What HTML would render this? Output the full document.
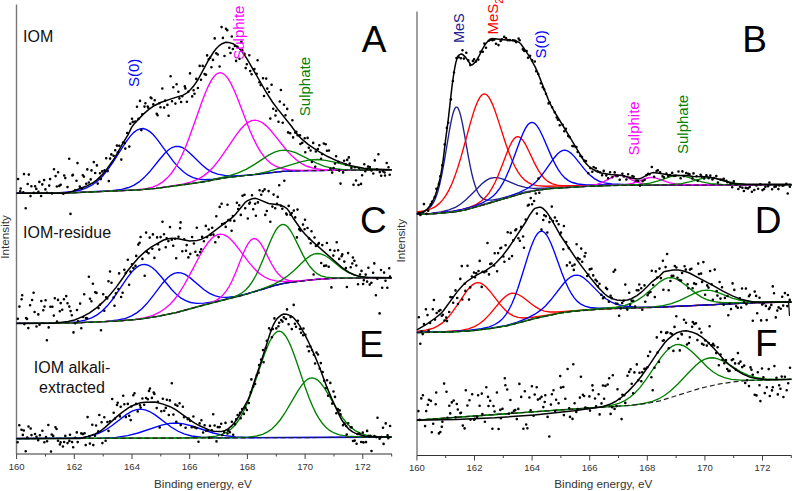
<!DOCTYPE html>
<html><head><meta charset="utf-8"><style>
html,body{margin:0;padding:0;background:#fff;width:793px;height:491px;overflow:hidden}
svg{display:block}
text{font-family:"Liberation Sans",sans-serif}
</style></head><body>
<svg width="793" height="491" viewBox="0 0 793 491" font-family="Liberation Sans, sans-serif">
<line x1="16.5" y1="4.5" x2="16.5" y2="454" stroke="#777" stroke-width="1.4"/>
<line x1="16.5" y1="454" x2="392" y2="454" stroke="#333" stroke-width="1.1"/>
<line x1="417" y1="11.5" x2="417" y2="455.5" stroke="#777" stroke-width="1.4"/>
<line x1="417" y1="455.5" x2="791.5" y2="455.5" stroke="#333" stroke-width="1.1"/>
<line x1="16.6" y1="454" x2="16.6" y2="459.0" stroke="#444" stroke-width="1"/>
<text x="16.6" y="469.5" font-size="9.5" text-anchor="middle" fill="#333">160</text>
<line x1="416.9" y1="455.5" x2="416.9" y2="460.5" stroke="#444" stroke-width="1"/>
<text x="416.9" y="470.7" font-size="9.5" text-anchor="middle" fill="#333">160</text>
<line x1="45.5" y1="454" x2="45.5" y2="456.5" stroke="#444" stroke-width="1"/>
<line x1="445.7" y1="455.5" x2="445.7" y2="458.0" stroke="#444" stroke-width="1"/>
<line x1="74.3" y1="454" x2="74.3" y2="459.0" stroke="#444" stroke-width="1"/>
<text x="74.3" y="469.5" font-size="9.5" text-anchor="middle" fill="#333">162</text>
<line x1="474.5" y1="455.5" x2="474.5" y2="460.5" stroke="#444" stroke-width="1"/>
<text x="474.5" y="470.7" font-size="9.5" text-anchor="middle" fill="#333">162</text>
<line x1="103.2" y1="454" x2="103.2" y2="456.5" stroke="#444" stroke-width="1"/>
<line x1="503.3" y1="455.5" x2="503.3" y2="458.0" stroke="#444" stroke-width="1"/>
<line x1="132.0" y1="454" x2="132.0" y2="459.0" stroke="#444" stroke-width="1"/>
<text x="132.0" y="469.5" font-size="9.5" text-anchor="middle" fill="#333">164</text>
<line x1="532.1" y1="455.5" x2="532.1" y2="460.5" stroke="#444" stroke-width="1"/>
<text x="532.1" y="470.7" font-size="9.5" text-anchor="middle" fill="#333">164</text>
<line x1="160.8" y1="454" x2="160.8" y2="456.5" stroke="#444" stroke-width="1"/>
<line x1="560.9" y1="455.5" x2="560.9" y2="458.0" stroke="#444" stroke-width="1"/>
<line x1="189.7" y1="454" x2="189.7" y2="459.0" stroke="#444" stroke-width="1"/>
<text x="189.7" y="469.5" font-size="9.5" text-anchor="middle" fill="#333">166</text>
<line x1="589.7" y1="455.5" x2="589.7" y2="460.5" stroke="#444" stroke-width="1"/>
<text x="589.7" y="470.7" font-size="9.5" text-anchor="middle" fill="#333">166</text>
<line x1="218.6" y1="454" x2="218.6" y2="456.5" stroke="#444" stroke-width="1"/>
<line x1="618.5" y1="455.5" x2="618.5" y2="458.0" stroke="#444" stroke-width="1"/>
<line x1="247.4" y1="454" x2="247.4" y2="459.0" stroke="#444" stroke-width="1"/>
<text x="247.4" y="469.5" font-size="9.5" text-anchor="middle" fill="#333">168</text>
<line x1="647.3" y1="455.5" x2="647.3" y2="460.5" stroke="#444" stroke-width="1"/>
<text x="647.3" y="470.7" font-size="9.5" text-anchor="middle" fill="#333">168</text>
<line x1="276.3" y1="454" x2="276.3" y2="456.5" stroke="#444" stroke-width="1"/>
<line x1="676.1" y1="455.5" x2="676.1" y2="458.0" stroke="#444" stroke-width="1"/>
<line x1="305.1" y1="454" x2="305.1" y2="459.0" stroke="#444" stroke-width="1"/>
<text x="305.1" y="469.5" font-size="9.5" text-anchor="middle" fill="#333">170</text>
<line x1="704.9" y1="455.5" x2="704.9" y2="460.5" stroke="#444" stroke-width="1"/>
<text x="704.9" y="470.7" font-size="9.5" text-anchor="middle" fill="#333">170</text>
<line x1="334.0" y1="454" x2="334.0" y2="456.5" stroke="#444" stroke-width="1"/>
<line x1="733.7" y1="455.5" x2="733.7" y2="458.0" stroke="#444" stroke-width="1"/>
<line x1="362.8" y1="454" x2="362.8" y2="459.0" stroke="#444" stroke-width="1"/>
<text x="362.8" y="469.5" font-size="9.5" text-anchor="middle" fill="#333">172</text>
<line x1="762.5" y1="455.5" x2="762.5" y2="460.5" stroke="#444" stroke-width="1"/>
<text x="762.5" y="470.7" font-size="9.5" text-anchor="middle" fill="#333">172</text>
<line x1="391.7" y1="454" x2="391.7" y2="456.5" stroke="#444" stroke-width="1"/>
<line x1="791.3" y1="455.5" x2="791.3" y2="458.0" stroke="#444" stroke-width="1"/>
<text x="154" y="487.7" font-size="11.7" fill="#333">Binding energy, eV</text>
<text x="554.3" y="488" font-size="11.7" fill="#333">Binding energy, eV</text>
<text transform="translate(9,258.7) rotate(-90)" font-size="11.7" fill="#333">Intensity</text>
<text transform="translate(405.4,262.5) rotate(-90)" font-size="11.7" fill="#333">Intensity</text>
<path d="M16.6 193.2L59.6 192.6L72.1 191.6L80.6 190.0L87.1 187.7L92.6 184.8L97.6 181.1L102.1 176.7L107.1 170.7L112.6 162.9L125.6 142.5L130.1 136.4L133.6 132.6L137.1 130.0L140.1 128.8L143.1 128.5L146.1 129.3L149.6 131.4L153.1 134.5L157.6 139.8L166.1 151.6L173.1 161.1L178.1 166.9L183.1 171.6L188.1 175.2L193.1 177.6L198.6 179.1L204.6 179.7L213.1 179.1L231.6 176.7L258.6 174.1L282.1 171.3L298.6 170.7L391.6 169.8" stroke="#0000ff" stroke-width="1.35" fill="none"/>
<path d="M16.6 193.3L70.6 192.7L111.6 190.7L121.6 189.4L128.6 187.5L134.1 185.1L139.1 181.9L144.1 177.6L149.6 171.8L159.1 160.0L164.6 153.5L168.6 149.8L172.1 147.5L175.6 146.4L179.1 146.5L182.6 147.7L186.6 150.3L192.1 155.3L202.1 165.1L207.1 169.1L212.1 172.1L217.6 174.1L224.6 175.4L234.1 175.9L249.6 175.1L283.1 171.3L304.1 170.6L391.6 169.8" stroke="#0000ff" stroke-width="1.35" fill="none"/>
<path d="M16.6 193.3L71.1 192.8L132.6 190.2L145.1 188.8L152.6 187.1L158.1 184.8L163.1 181.6L167.6 177.6L171.6 173.0L175.1 168.0L178.6 162.0L182.1 155.0L185.6 146.9L189.6 136.6L195.6 119.7L201.6 102.7L205.1 93.5L208.1 86.6L210.6 81.6L213.1 77.7L215.6 74.8L218.1 73.2L220.6 72.7L223.1 73.5L225.6 75.6L228.1 78.7L230.6 82.9L233.6 89.0L237.1 97.2L244.1 115.6L249.6 129.7L253.6 138.9L257.1 145.9L260.6 151.8L264.1 156.7L267.6 160.6L271.6 163.9L276.1 166.5L281.6 168.5L289.6 169.9L301.1 170.5L391.6 169.8" stroke="#ff00ff" stroke-width="1.35" fill="none"/>
<path d="M16.6 193.3L71.1 192.8L138.6 189.9L156.1 188.4L182.6 184.1L191.6 181.8L198.1 179.2L203.6 175.9L208.6 171.9L213.6 166.7L219.1 159.9L226.6 149.1L236.1 135.1L240.6 129.3L244.6 125.1L248.1 122.4L251.6 120.7L255.1 120.2L258.6 120.8L262.1 122.5L266.1 125.6L270.6 130.3L278.1 139.6L286.6 150.2L292.1 156.1L297.1 160.5L302.1 163.9L307.6 166.5L314.1 168.4L322.6 169.7L337.1 170.2L391.6 169.8" stroke="#ff00ff" stroke-width="1.35" fill="none"/>
<path d="M16.6 193.3L71.1 192.8L138.6 189.9L156.1 188.4L188.6 184.0L205.1 181.5L228.6 175.9L238.1 172.9L246.1 169.4L254.6 164.4L268.6 155.2L274.6 152.2L279.6 150.6L284.6 150.1L289.6 150.8L295.6 152.7L305.1 157.4L316.6 163.2L324.6 166.3L333.1 168.3L343.6 169.6L361.6 170.0L391.6 169.8" stroke="#008000" stroke-width="1.35" fill="none"/>
<path d="M16.6 193.3L71.1 192.8L138.6 189.9L156.1 188.4L188.1 184.1L206.1 181.4L225.1 177.8L254.6 174.4L267.6 171.7L283.1 167.1L301.6 161.6L310.1 159.9L317.6 159.5L325.6 160.3L336.6 162.7L353.1 166.9L364.6 168.7L379.1 169.6L391.6 169.7" stroke="#008000" stroke-width="1.35" fill="none"/>
<path d="M16.6 193.3L71.1 192.8L138.6 189.9L156.1 188.4L188.1 184.1L206.1 181.4L225.1 177.8L261.1 174.0L282.6 171.4L300.6 170.8L391.6 169.8" stroke="#222" stroke-width="1.2" fill="none" stroke-dasharray="5,3"/>
<path d="M16.6 193.3L64.6 193.2L71.6 191.6L86.1 186.3L92.6 183.0L96.6 180.1L102.1 174.9L106.6 169.4L113.1 160.3L117.1 153.7L122.6 143.6L128.1 134.6L131.6 127.4L134.1 124.0L143.1 114.4L148.6 109.7L154.6 105.5L160.6 102.5L171.1 98.9L183.1 95.1L186.6 93.2L190.6 89.6L193.6 86.1L197.6 80.3L201.1 73.9L208.6 60.0L213.6 52.0L216.1 48.8L219.6 45.3L222.1 43.7L225.6 42.3L228.6 42.4L233.1 43.7L236.6 46.1L240.1 49.4L244.1 54.4L247.6 59.9L258.6 79.0L266.1 92.1L272.6 102.2L277.6 108.9L291.1 125.7L297.6 134.7L301.6 138.9L308.1 144.4L318.1 151.1L327.1 156.3L337.6 161.1L349.6 165.4L363.6 168.3L371.1 169.1L391.6 169.7" stroke="#000" stroke-width="1.5" fill="none"/>
<path d="M18.1 179.0h.01M20.2 191.2h.01M20.7 188.5h.01M23.3 192.2h.01M24.0 174.1h.01M25.7 208.2h.01M27.7 184.0h.01M28.8 174.6h.01M30.5 196.1h.01M31.4 186.3h.01M33.8 192.9h.01M35.1 186.2h.01M36.3 188.9h.01M38.4 191.9h.01M39.4 181.9h.01M41.1 196.0h.01M42.3 184.4h.01M44.1 180.1h.01M45.4 189.4h.01M47.0 192.8h.01M49.2 185.6h.01M50.1 179.1h.01M51.9 193.5h.01M54.0 169.2h.01M55.6 176.1h.01M56.8 186.5h.01M58.1 172.2h.01M59.3 185.9h.01M60.7 184.8h.01M63.3 193.8h.01M64.2 175.5h.01M65.3 178.1h.01M67.5 187.1h.01M69.2 158.7h.01M70.5 213.9h.01M72.4 175.4h.01M72.9 174.9h.01M75.0 190.2h.01M76.5 180.7h.01M77.5 163.1h.01M79.8 186.6h.01M81.6 188.5h.01M82.8 175.2h.01M83.9 176.6h.01M86.2 183.7h.01M87.3 169.4h.01M88.8 182.5h.01M90.7 179.4h.01M91.5 170.4h.01M93.8 162.1h.01M95.2 173.0h.01M96.9 165.4h.01M97.7 183.6h.01M100.0 173.3h.01M100.8 179.1h.01M102.2 171.4h.01M104.6 170.4h.01M106.2 158.3h.01M107.7 171.1h.01M108.8 181.1h.01M110.1 158.6h.01M111.3 154.4h.01M113.6 155.8h.01M115.2 150.3h.01M116.9 145.6h.01M117.8 152.6h.01M119.2 145.8h.01M121.3 159.6h.01M123.0 142.5h.01M124.8 143.1h.01M125.3 148.6h.01M127.2 133.0h.01M129.3 146.6h.01M130.3 123.8h.01M132.0 118.7h.01M132.8 121.9h.01M135.2 121.6h.01M137.0 106.8h.01M138.4 118.9h.01M140.0 100.9h.01M141.3 130.1h.01M142.3 114.3h.01M144.5 106.6h.01M145.4 103.2h.01M147.7 106.6h.01M148.3 107.7h.01M150.7 97.6h.01M151.5 98.3h.01M153.3 104.4h.01M154.7 100.2h.01M156.7 113.7h.01M157.6 115.2h.01M159.4 103.2h.01M160.5 107.3h.01M162.3 88.5h.01M164.1 107.6h.01M165.2 100.5h.01M167.4 104.9h.01M168.6 115.7h.01M170.6 76.3h.01M172.0 101.3h.01M173.3 87.3h.01M175.4 103.6h.01M176.6 84.2h.01M178.4 91.8h.01M179.4 98.4h.01M181.1 102.0h.01M182.3 96.2h.01M184.8 86.4h.01M185.4 88.4h.01M186.9 101.8h.01M188.3 91.8h.01M190.0 73.4h.01M192.2 96.4h.01M193.6 90.3h.01M194.5 93.7h.01M196.3 78.9h.01M197.9 88.0h.01M199.7 65.9h.01M201.0 79.7h.01M202.7 65.9h.01M204.6 74.1h.01M206.0 74.8h.01M207.1 55.4h.01M208.7 59.3h.01M210.1 57.8h.01M211.4 67.3h.01M213.0 59.9h.01M214.7 38.4h.01M216.2 53.3h.01M217.8 54.5h.01M219.6 66.5h.01M221.6 27.1h.01M222.9 37.9h.01M224.5 56.0h.01M226.0 28.7h.01M227.3 30.2h.01M229.3 47.7h.01M230.5 53.0h.01M231.8 36.5h.01M232.9 49.0h.01M234.9 46.0h.01M236.1 60.9h.01M237.5 46.9h.01M239.5 58.7h.01M241.4 41.9h.01M242.3 50.2h.01M244.5 53.9h.01M245.7 68.1h.01M246.8 64.3h.01M249.3 55.2h.01M250.2 71.1h.01M251.6 74.3h.01M253.8 69.4h.01M254.4 69.1h.01M256.7 73.8h.01M257.6 60.3h.01M259.4 82.3h.01M260.7 85.1h.01M263.0 78.2h.01M264.0 96.0h.01M266.2 78.6h.01M267.3 88.6h.01M269.0 92.0h.01M270.3 118.6h.01M271.6 84.7h.01M273.2 108.7h.01M275.4 115.5h.01M276.1 110.7h.01M278.5 121.8h.01M279.8 101.5h.01M280.9 90.0h.01M282.7 122.8h.01M284.0 104.7h.01M285.5 115.3h.01M287.2 108.9h.01M288.1 132.4h.01M290.2 133.2h.01M292.4 120.2h.01M293.1 137.4h.01M295.2 132.6h.01M296.3 131.7h.01M297.6 135.3h.01M300.0 135.3h.01M300.4 144.0h.01M302.3 142.7h.01M304.7 138.2h.01M305.3 152.3h.01M307.6 137.9h.01M308.8 147.8h.01M310.6 150.5h.01M311.9 161.9h.01M313.2 142.9h.01M315.2 166.7h.01M315.8 151.5h.01M317.9 149.1h.01M319.3 145.2h.01M321.0 158.8h.01M322.1 154.1h.01M323.8 143.5h.01M325.7 144.3h.01M327.0 150.7h.01M329.0 150.5h.01M330.4 168.8h.01M332.2 172.6h.01M333.6 168.1h.01M335.0 163.6h.01M336.1 156.2h.01M338.3 161.9h.01M339.2 170.6h.01M340.5 183.6h.01M343.1 172.4h.01M344.1 160.8h.01M345.9 164.6h.01M347.2 159.9h.01M348.8 157.4h.01M349.7 163.6h.01M351.4 167.9h.01M353.5 184.7h.01M354.9 167.2h.01M356.0 180.5h.01M358.5 185.0h.01M359.0 168.3h.01M361.0 183.9h.01M362.1 175.2h.01M364.3 164.3h.01M365.3 171.3h.01M366.7 169.0h.01M368.1 166.6h.01M369.8 167.0h.01M371.4 170.5h.01M373.3 173.5h.01M374.8 160.4h.01M376.9 169.3h.01M378.4 154.2h.01M379.8 172.1h.01M381.2 175.8h.01M382.9 171.2h.01M384.6 172.5h.01M385.0 175.5h.01M386.7 163.0h.01M388.5 167.3h.01M389.7 174.8h.01" stroke="#000" stroke-width="2.6" stroke-linecap="round" fill="none"/>
<path d="M16.6 323.3L64.1 322.8L76.6 321.8L85.1 320.2L91.6 317.9L97.1 314.9L102.1 311.1L107.1 306.1L112.1 300.0L118.6 290.7L127.6 277.4L132.1 271.6L135.6 268.2L139.1 265.7L142.1 264.6L145.1 264.5L148.6 265.4L152.1 267.5L156.1 271.1L161.6 277.3L171.6 289.5L176.6 294.6L181.1 298.2L185.6 300.7L190.6 302.5L196.6 303.4L204.1 303.2L215.1 301.6L237.1 296.6L252.6 292.2L274.6 285.5L286.1 282.9L312.6 279.7L331.6 278.3L390.6 277.8L391.6 277.8" stroke="#0000ff" stroke-width="1.35" fill="none"/>
<path d="M16.6 323.4L73.6 322.9L106.6 321.4L118.1 320.0L125.6 318.3L131.6 315.9L137.1 312.6L142.1 308.5L147.1 303.3L153.6 295.1L162.6 283.2L167.1 278.2L170.6 275.3L174.1 273.4L177.6 272.6L181.1 272.9L185.1 274.4L189.6 277.4L204.1 289.8L209.6 293.4L214.6 295.7L220.1 297.1L226.6 297.4L235.1 296.5L245.6 294.2L275.6 285.2L286.6 282.9L313.6 279.6L332.6 278.3L391.6 277.8" stroke="#0000ff" stroke-width="1.35" fill="none"/>
<path d="M16.6 323.4L74.1 322.9L115.1 321.2L135.1 319.5L145.1 317.7L153.1 315.3L159.6 312.2L165.1 308.5L170.1 304.2L174.6 299.2L179.1 293.1L184.1 285.0L190.1 274.1L199.6 256.0L204.1 248.3L208.1 242.5L211.6 238.6L214.6 236.1L217.6 234.6L220.6 234.1L223.6 234.6L227.1 236.3L230.6 239.2L234.6 243.5L240.6 251.3L249.1 262.7L254.6 269.0L259.6 273.6L264.6 277.0L269.6 279.3L275.6 280.8L283.6 281.5L295.6 281.2L328.1 278.5L359.1 278.0L391.6 277.8" stroke="#ff00ff" stroke-width="1.35" fill="none"/>
<path d="M16.6 323.4L74.1 322.9L115.6 321.2L140.1 319.2L157.6 316.4L176.6 312.5L209.6 303.2L215.6 300.6L219.6 298.1L223.1 294.9L226.1 291.2L229.1 286.5L232.1 280.7L235.6 272.7L243.1 253.8L245.6 248.2L248.1 243.6L250.1 240.9L252.1 239.2L254.1 238.5L256.1 238.9L258.1 240.4L260.6 243.4L263.6 248.4L271.6 264.0L275.1 269.8L278.1 273.8L281.1 276.7L284.6 279.0L288.6 280.5L293.6 281.1L302.6 280.7L326.6 278.6L349.1 278.1L391.6 277.8" stroke="#ff00ff" stroke-width="1.35" fill="none"/>
<path d="M16.6 323.4L74.1 322.9L115.6 321.2L140.1 319.2L157.6 316.4L176.6 312.5L206.6 304.3L229.6 298.4L237.1 295.6L242.1 292.8L246.1 289.5L249.6 285.5L252.6 281.2L255.6 276.0L259.1 268.8L263.1 259.4L270.1 241.9L273.1 235.3L275.6 230.7L277.6 227.8L279.6 225.8L281.6 224.6L283.6 224.5L285.6 225.2L287.6 226.8L290.1 230.0L293.1 235.0L297.6 244.1L303.1 255.4L306.6 261.6L310.1 266.8L313.6 270.8L317.1 273.7L321.1 275.8L326.1 277.2L334.1 278.0L368.1 277.9L391.6 277.8" stroke="#008000" stroke-width="1.35" fill="none"/>
<path d="M16.6 323.4L74.1 322.9L115.6 321.2L140.1 319.1L157.6 316.4L176.6 312.4L206.6 304.3L244.1 294.9L261.6 289.1L273.6 284.3L281.1 280.4L288.1 275.5L294.1 270.4L305.6 259.3L310.1 255.9L313.6 254.2L317.1 253.5L320.6 253.8L324.6 255.3L329.6 258.5L342.1 268.6L347.6 272.1L353.1 274.6L359.6 276.3L368.6 277.3L391.6 277.7" stroke="#008000" stroke-width="1.35" fill="none"/>
<path d="M16.6 323.4L74.1 322.9L115.6 321.2L140.1 319.2L157.6 316.4L176.6 312.5L206.6 304.3L244.1 295.0L274.6 285.6L286.1 283.0L312.6 279.7L331.6 278.4L390.1 277.8L391.6 277.8" stroke="#222" stroke-width="1.2" fill="none" stroke-dasharray="5,3"/>
<path d="M16.6 323.4L53.6 323.2L68.1 321.5L74.6 320.0L82.6 316.6L89.6 312.8L96.1 308.2L102.6 302.4L109.6 295.2L116.1 287.4L122.6 278.3L127.6 270.8L133.6 263.5L139.1 257.1L145.1 251.6L151.1 247.2L163.1 240.3L167.1 239.0L172.1 238.2L178.1 238.8L189.6 240.9L197.1 240.4L201.1 239.4L207.6 236.2L226.1 222.2L232.1 217.7L235.1 214.7L245.1 202.5L247.1 200.9L252.1 198.7L255.1 198.3L258.1 199.1L268.6 203.5L280.1 205.1L284.1 206.7L287.1 208.7L289.1 211.3L293.6 218.8L301.1 229.5L305.1 234.3L312.6 241.6L336.6 262.8L342.1 267.6L349.1 272.4L354.1 274.8L359.6 276.6L365.6 277.2L390.1 277.8L391.6 277.8" stroke="#000" stroke-width="1.5" fill="none"/>
<path d="M17.8 318.8h.01M19.4 306.6h.01M21.6 299.3h.01M22.2 295.2h.01M24.4 324.1h.01M26.1 318.0h.01M27.0 318.9h.01M28.3 328.1h.01M30.1 305.2h.01M32.1 300.0h.01M33.6 292.8h.01M34.6 312.0h.01M36.5 326.5h.01M38.3 314.4h.01M39.5 324.8h.01M41.3 301.0h.01M43.3 310.3h.01M44.5 306.5h.01M45.6 300.3h.01M46.9 340.3h.01M48.7 327.4h.01M50.4 306.8h.01M52.4 306.7h.01M53.8 315.6h.01M54.8 298.2h.01M57.0 321.6h.01M58.0 299.9h.01M59.8 311.3h.01M60.7 303.1h.01M62.2 309.8h.01M63.9 299.2h.01M66.2 296.1h.01M67.5 303.3h.01M69.3 306.6h.01M70.6 311.1h.01M71.8 315.3h.01M73.5 332.4h.01M75.1 323.3h.01M77.0 310.0h.01M78.0 321.2h.01M80.1 303.6h.01M81.3 328.3h.01M83.1 317.0h.01M84.2 294.2h.01M86.0 318.1h.01M87.1 318.3h.01M88.9 276.8h.01M90.0 298.7h.01M91.4 301.2h.01M92.9 283.7h.01M95.2 292.3h.01M96.5 292.9h.01M98.5 308.1h.01M100.0 304.7h.01M101.0 330.2h.01M103.2 294.3h.01M104.3 310.8h.01M106.1 297.2h.01M107.2 298.4h.01M108.5 281.3h.01M110.0 271.5h.01M111.5 282.8h.01M113.6 297.6h.01M114.5 305.7h.01M115.9 293.2h.01M118.4 289.0h.01M119.1 273.4h.01M121.1 297.0h.01M122.6 292.7h.01M124.3 269.7h.01M125.7 272.9h.01M127.8 259.7h.01M129.1 284.8h.01M130.4 271.6h.01M132.0 264.3h.01M133.4 268.1h.01M135.5 265.9h.01M136.2 255.9h.01M138.3 244.6h.01M139.6 242.7h.01M140.6 237.0h.01M142.4 258.9h.01M144.7 275.7h.01M146.1 232.6h.01M146.7 251.8h.01M148.6 253.3h.01M149.7 237.6h.01M152.3 248.7h.01M152.9 234.4h.01M154.4 257.9h.01M157.1 237.4h.01M158.0 244.3h.01M159.3 249.6h.01M160.6 237.1h.01M162.5 221.8h.01M164.0 234.3h.01M165.7 247.3h.01M166.7 238.2h.01M168.4 241.1h.01M170.0 227.1h.01M171.8 239.7h.01M173.2 245.8h.01M175.1 238.7h.01M176.2 258.3h.01M178.5 236.7h.01M180.1 228.3h.01M180.6 222.4h.01M182.3 251.3h.01M184.2 239.2h.01M186.0 250.7h.01M186.7 245.1h.01M188.4 257.4h.01M190.3 253.9h.01M192.1 237.0h.01M193.9 243.5h.01M195.4 251.7h.01M196.8 227.8h.01M197.5 255.2h.01M200.1 252.1h.01M201.2 249.3h.01M202.1 236.9h.01M203.9 241.3h.01M205.8 225.9h.01M207.1 237.1h.01M208.7 229.5h.01M210.7 234.9h.01M212.2 227.7h.01M213.4 234.6h.01M215.3 242.2h.01M216.3 216.3h.01M218.6 237.1h.01M219.7 206.9h.01M221.6 203.7h.01M222.1 224.0h.01M224.6 223.3h.01M225.7 226.9h.01M227.5 204.7h.01M228.4 220.0h.01M230.3 220.4h.01M231.6 230.7h.01M232.9 216.0h.01M234.3 220.9h.01M236.9 202.7h.01M238.2 209.0h.01M239.2 205.3h.01M240.8 214.9h.01M242.5 195.7h.01M244.5 194.8h.01M245.2 208.2h.01M247.8 218.5h.01M249.3 203.6h.01M250.0 202.5h.01M252.0 195.3h.01M253.2 209.3h.01M255.1 203.7h.01M255.9 215.8h.01M257.9 202.4h.01M259.6 190.3h.01M261.2 194.8h.01M262.8 191.2h.01M264.6 189.4h.01M265.3 214.9h.01M266.8 211.0h.01M268.6 191.1h.01M270.3 221.8h.01M272.4 206.6h.01M273.6 194.6h.01M275.2 208.3h.01M277.0 203.9h.01M277.7 196.9h.01M279.2 185.3h.01M280.9 205.7h.01M282.3 208.8h.01M284.3 180.7h.01M286.2 213.6h.01M286.8 214.6h.01M288.7 205.9h.01M290.5 214.7h.01M291.8 213.0h.01M293.8 210.6h.01M295.2 217.4h.01M296.9 237.4h.01M297.5 209.6h.01M299.1 229.2h.01M300.5 230.6h.01M303.0 224.6h.01M304.6 229.3h.01M305.0 219.8h.01M307.5 228.0h.01M309.0 238.4h.01M310.7 243.3h.01M311.5 231.3h.01M313.6 274.5h.01M314.5 237.5h.01M315.9 246.0h.01M318.2 244.3h.01M318.9 243.1h.01M321.2 263.0h.01M322.3 245.1h.01M324.1 265.9h.01M326.1 265.6h.01M326.9 243.0h.01M328.7 266.8h.01M330.1 250.0h.01M331.4 287.4h.01M333.3 255.6h.01M334.5 250.7h.01M336.7 242.3h.01M338.1 250.2h.01M339.2 258.9h.01M341.6 256.3h.01M342.3 254.4h.01M344.3 261.6h.01M345.9 268.1h.01M346.9 287.0h.01M348.1 253.1h.01M350.7 267.2h.01M352.3 263.5h.01M352.9 257.5h.01M354.4 260.8h.01M356.3 265.5h.01M358.0 284.2h.01M360.0 274.5h.01M361.5 270.9h.01M363.1 284.0h.01M363.8 280.3h.01M365.7 274.6h.01M367.1 281.6h.01M368.4 267.8h.01M369.7 284.6h.01M371.4 282.8h.01M373.1 272.7h.01M374.3 263.4h.01M375.9 295.2h.01M377.4 278.7h.01M379.6 313.4h.01M381.0 270.0h.01M382.2 287.8h.01M384.1 272.6h.01M385.5 280.8h.01M387.3 287.7h.01M389.2 268.3h.01M390.0 276.6h.01" stroke="#000" stroke-width="2.6" stroke-linecap="round" fill="none"/>
<path d="M16.6 438.5L70.6 438.1L83.1 437.3L91.6 435.7L98.6 433.4L105.1 430.2L112.1 425.5L126.6 414.4L132.1 411.2L136.6 409.6L140.6 409.1L145.1 409.8L149.6 411.5L155.1 414.9L171.1 427.0L177.6 431.0L184.1 433.9L191.6 436.0L201.1 437.2L217.6 437.8L378.1 437.2L391.6 437.1" stroke="#0000ff" stroke-width="1.35" fill="none"/>
<path d="M16.6 438.6L99.6 438.2L116.1 437.3L127.6 435.6L138.1 433.0L161.6 425.1L169.6 423.4L176.6 423.0L183.6 423.8L192.1 426.0L213.1 433.0L223.6 435.4L235.6 437.0L253.1 437.7L375.1 437.2L391.6 437.1" stroke="#0000ff" stroke-width="1.35" fill="none"/>
<path d="M16.6 438.6L184.1 437.8L207.1 437.2L216.1 436.1L222.1 434.4L227.1 432.0L231.1 429.1L234.6 425.6L238.1 421.0L241.1 416.1L244.1 410.3L247.6 402.4L251.1 393.4L255.6 380.5L263.1 358.1L266.6 348.7L269.1 342.8L271.6 338.0L273.6 334.9L275.6 332.8L277.6 331.5L279.6 331.2L281.6 331.9L283.6 333.5L285.6 336.0L288.1 340.3L290.6 345.6L293.6 353.3L297.6 364.7L305.1 387.0L309.1 397.9L312.6 406.3L315.6 412.6L318.6 417.9L322.1 423.0L325.6 427.0L329.6 430.4L334.1 433.0L339.6 434.9L347.1 436.1L361.1 436.8L391.6 436.9" stroke="#008000" stroke-width="1.35" fill="none"/>
<path d="M16.6 438.6L227.1 437.8L247.6 437.2L256.6 436.0L262.6 434.3L267.6 431.9L272.1 428.7L276.1 424.8L280.1 420.0L284.6 413.5L290.6 403.4L297.6 391.3L301.6 385.4L304.6 381.8L307.6 379.3L310.1 378.2L312.6 377.9L315.1 378.6L317.6 380.1L320.6 383.0L324.1 387.6L328.6 394.8L338.1 411.1L342.6 417.9L346.6 423.0L350.6 427.1L355.1 430.6L360.1 433.2L366.1 435.1L374.1 436.3L389.6 436.8L391.6 436.8" stroke="#008000" stroke-width="1.35" fill="none"/>
<path d="M16.6 438.6L323.6 437.5L391.6 437.1" stroke="#222" stroke-width="1.2" fill="none" stroke-dasharray="5,3"/>
<path d="M16.6 438.6L80.1 438.5L88.1 436.4L95.1 433.9L100.1 431.3L105.1 427.4L116.6 416.9L122.1 412.3L129.1 407.4L134.1 405.0L140.6 402.7L145.1 402.2L155.1 402.1L163.1 404.1L170.1 406.7L175.6 409.6L193.1 422.1L199.6 425.8L209.6 430.1L213.6 431.2L221.1 431.6L225.1 430.5L227.6 429.3L231.6 425.9L235.1 421.7L239.1 415.8L242.1 410.7L248.1 399.6L249.6 396.0L251.6 390.1L255.1 379.2L260.6 363.3L266.6 344.4L269.6 334.7L272.1 327.8L273.6 324.3L276.1 319.9L277.6 318.1L281.1 315.2L283.6 314.1L286.6 314.3L291.1 315.8L293.1 317.3L296.6 321.2L300.1 326.3L304.6 334.1L309.1 343.2L314.6 355.4L319.6 367.5L326.6 386.4L331.6 398.4L339.6 415.9L342.1 420.5L346.1 426.1L349.1 429.4L352.6 431.9L357.1 434.1L365.6 436.3L372.1 436.8L391.6 437.1" stroke="#000" stroke-width="1.5" fill="none"/>
<path d="M17.6 442.2h.01M19.3 425.3h.01M21.5 429.7h.01M22.8 434.9h.01M23.8 430.5h.01M25.7 451.3h.01M27.3 437.5h.01M28.5 426.5h.01M30.7 428.5h.01M31.5 435.1h.01M35.0 434.0h.01M36.5 436.7h.01M38.2 440.2h.01M39.9 435.2h.01M42.4 430.8h.01M44.4 442.3h.01M46.0 437.0h.01M47.1 441.2h.01M48.3 425.0h.01M51.0 451.5h.01M51.7 434.5h.01M53.2 435.9h.01M55.5 427.2h.01M56.6 429.0h.01M58.0 440.7h.01M59.9 444.5h.01M60.6 442.4h.01M62.9 446.5h.01M64.1 442.0h.01M65.3 435.9h.01M67.5 443.1h.01M69.4 440.9h.01M70.0 434.7h.01M72.1 442.1h.01M73.2 447.2h.01M75.3 437.7h.01M76.8 432.4h.01M77.7 442.1h.01M81.3 433.4h.01M82.9 434.1h.01M84.6 433.2h.01M85.7 445.1h.01M87.6 417.1h.01M89.3 436.4h.01M89.9 443.6h.01M92.3 424.7h.01M93.3 445.1h.01M95.0 435.8h.01M96.1 425.5h.01M98.3 431.2h.01M99.3 415.0h.01M101.6 422.2h.01M102.4 443.1h.01M104.3 417.2h.01M105.6 440.8h.01M107.4 422.0h.01M108.5 430.9h.01M110.0 421.2h.01M112.2 399.0h.01M113.7 412.8h.01M115.0 418.6h.01M117.0 405.0h.01M117.7 402.7h.01M120.0 416.4h.01M120.7 406.8h.01M123.2 395.8h.01M124.3 404.2h.01M125.9 417.1h.01M127.8 403.9h.01M129.2 415.7h.01M130.7 420.1h.01M131.3 406.5h.01M133.3 395.3h.01M134.5 393.3h.01M136.1 403.9h.01M137.7 411.4h.01M140.0 405.2h.01M140.7 407.5h.01M142.4 398.5h.01M144.2 404.8h.01M146.1 398.0h.01M147.8 399.3h.01M149.0 390.9h.01M150.0 388.5h.01M151.9 397.9h.01M153.7 392.6h.01M154.4 393.9h.01M156.7 408.1h.01M157.9 401.8h.01M159.7 427.4h.01M161.3 411.3h.01M162.8 398.8h.01M164.2 410.8h.01M165.8 407.9h.01M166.9 399.8h.01M168.8 415.0h.01M169.9 400.4h.01M171.8 383.3h.01M173.4 414.6h.01M175.3 404.6h.01M176.3 421.7h.01M177.4 405.8h.01M179.6 403.3h.01M180.7 425.1h.01M182.9 406.8h.01M184.0 417.3h.01M185.6 427.7h.01M187.7 419.3h.01M188.6 418.5h.01M190.1 420.8h.01M191.7 427.2h.01M193.4 416.5h.01M194.4 427.3h.01M196.5 428.3h.01M198.5 441.7h.01M199.6 423.4h.01M201.4 420.3h.01M203.1 432.5h.01M204.6 425.3h.01M206.0 430.6h.01M207.6 430.2h.01M209.1 437.7h.01M210.0 425.9h.01M211.8 430.2h.01M213.2 414.3h.01M214.6 425.5h.01M216.5 441.4h.01M217.8 427.1h.01M219.7 427.1h.01M221.2 423.8h.01M222.1 435.1h.01M224.1 432.0h.01M225.5 422.9h.01M227.5 433.5h.01M228.3 430.4h.01M229.9 432.2h.01M231.8 421.7h.01M233.2 434.7h.01M235.1 424.2h.01M236.2 419.4h.01M237.6 415.0h.01M240.0 412.9h.01M240.7 418.3h.01M242.2 409.0h.01M243.9 413.9h.01M245.5 407.9h.01M246.9 410.0h.01M248.8 403.0h.01M250.8 392.2h.01M251.4 379.4h.01M253.3 386.6h.01M255.1 384.0h.01M256.9 375.1h.01M258.6 372.7h.01M259.1 365.0h.01M261.1 359.5h.01M263.0 350.1h.01M263.6 362.3h.01M265.8 348.1h.01M266.8 340.7h.01M269.1 328.2h.01M270.8 330.3h.01M271.9 337.2h.01M272.8 329.0h.01M274.4 318.4h.01M276.3 328.4h.01M278.4 326.2h.01M279.2 322.8h.01M281.2 320.0h.01M282.5 321.6h.01M283.8 317.4h.01M285.9 319.0h.01M287.0 309.4h.01M288.6 324.3h.01M290.6 317.1h.01M291.8 329.1h.01M293.7 304.9h.01M294.9 323.7h.01M296.0 326.7h.01M297.9 320.7h.01M299.9 329.0h.01M301.1 332.8h.01M303.1 335.2h.01M303.5 328.5h.01M305.4 334.8h.01M307.5 346.5h.01M308.9 351.3h.01M310.3 346.5h.01M312.0 350.0h.01M313.8 354.8h.01M315.1 363.5h.01M316.5 352.6h.01M318.0 354.5h.01M319.7 368.5h.01M320.8 363.1h.01M322.7 372.0h.01M324.2 380.7h.01M326.0 388.1h.01M327.1 380.3h.01M328.1 395.8h.01M330.3 382.9h.01M332.2 403.6h.01M333.5 391.5h.01M335.0 396.9h.01M336.3 413.3h.01M337.7 409.1h.01M339.7 410.4h.01M340.5 414.4h.01M343.0 425.2h.01M344.5 423.6h.01M346.2 426.0h.01M346.7 434.6h.01M348.2 423.2h.01M350.7 427.2h.01M351.6 427.4h.01M353.0 441.0h.01M354.7 440.6h.01M356.6 443.8h.01M357.5 434.0h.01M359.4 433.6h.01M361.2 442.0h.01M362.8 432.6h.01M363.5 442.4h.01M366.0 442.1h.01M367.1 430.9h.01M368.6 436.0h.01M370.3 435.8h.01M371.5 451.0h.01M374.5 436.1h.01M376.4 437.1h.01M377.5 417.8h.01M379.6 438.8h.01M381.5 437.0h.01M383.0 427.8h.01M383.6 443.9h.01M385.7 423.4h.01M387.6 435.2h.01M388.3 438.3h.01M390.1 426.0h.01" stroke="#000" stroke-width="2.6" stroke-linecap="round" fill="none"/>
<path d="M416.9 212.4L423.4 211.3L426.9 209.9L429.4 208.0L431.4 205.8L433.4 202.7L434.9 199.7L436.4 195.8L437.9 191.2L439.4 185.6L440.9 179.0L442.4 171.6L444.4 160.6L449.4 130.7L450.9 122.6L451.9 117.9L452.9 113.9L453.9 110.7L454.9 108.4L455.9 107.2L456.9 107.1L457.9 108.0L458.9 110.0L459.9 112.9L460.9 116.6L462.4 123.4L463.9 131.3L468.4 156.8L470.4 167.2L471.9 174.0L473.4 180.0L474.9 185.0L476.4 189.2L477.9 192.5L479.4 195.0L481.4 197.4L483.9 199.2L486.9 200.1L491.9 200.1L499.9 198.6L525.4 192.0L542.9 189.0L557.4 187.7L606.4 185.4L714.9 184.8L791.4 184.8" stroke="#202090" stroke-width="1.35" fill="none"/>
<path d="M416.9 213.8L430.4 213.3L440.9 211.9L448.9 209.9L455.4 207.3L460.4 204.2L465.9 199.8L473.4 192.4L481.4 184.2L485.9 180.6L489.9 178.5L493.9 177.6L497.9 177.7L502.9 179.1L517.9 185.4L525.4 187.4L533.4 188.4L544.9 188.1L606.9 185.4L728.9 184.8L791.4 184.8" stroke="#202090" stroke-width="1.35" fill="none"/>
<path d="M416.9 211.9L425.4 210.7L430.9 208.9L435.4 206.6L439.4 203.4L442.9 199.6L445.9 195.4L448.9 190.1L451.9 183.7L454.9 176.1L457.9 167.3L460.9 157.4L465.4 141.2L470.4 122.9L473.4 112.9L475.4 107.0L477.4 102.0L479.4 98.1L480.9 95.9L482.4 94.5L483.9 93.9L485.4 94.1L486.9 95.0L488.4 96.6L490.4 99.9L492.4 104.1L494.9 110.5L498.4 120.9L505.4 142.7L508.9 152.6L511.9 160.1L514.9 166.5L517.9 171.8L520.9 176.1L524.4 179.8L527.9 182.4L531.9 184.4L536.9 185.6L544.9 186.2L580.9 185.6L616.9 184.8L791.4 184.7" stroke="#ff0000" stroke-width="1.35" fill="none"/>
<path d="M416.9 213.9L432.4 213.4L452.4 211.3L461.4 209.7L469.9 207.1L476.4 204.3L481.4 201.0L485.4 197.3L488.9 193.1L491.9 188.4L494.9 182.7L497.9 176.0L501.9 165.9L507.4 151.5L509.9 145.8L511.9 141.9L513.9 139.0L515.9 137.2L517.4 136.7L518.9 136.8L520.9 138.0L522.9 140.3L525.4 144.2L528.9 151.2L534.9 163.9L538.4 170.3L541.4 174.8L544.4 178.4L547.9 181.4L551.9 183.7L556.9 185.2L564.4 186.0L581.9 185.9L618.4 185.0L791.4 184.8" stroke="#ff0000" stroke-width="1.35" fill="none"/>
<path d="M416.9 213.8L432.4 213.3L452.9 211.2L462.4 209.5L473.4 206.3L482.4 202.8L488.4 199.5L492.9 196.2L496.4 192.7L499.9 188.1L502.9 183.2L505.9 177.3L509.4 169.2L513.4 158.8L519.9 140.9L522.9 133.5L525.4 128.4L527.4 125.3L529.4 123.3L531.4 122.4L533.4 122.6L535.4 124.0L537.4 126.4L539.9 130.5L542.9 136.7L551.9 157.6L555.4 164.7L558.4 169.9L561.4 174.1L564.9 177.9L568.4 180.6L572.4 182.5L577.9 184.0L586.4 184.8L791.4 184.7" stroke="#0000ff" stroke-width="1.35" fill="none"/>
<path d="M416.9 214.1L432.4 213.7L454.9 211.6L465.4 209.6L483.4 204.5L503.4 198.4L518.9 192.6L526.4 189.0L531.9 185.3L536.4 181.4L540.9 176.3L546.4 168.8L553.9 158.2L557.4 154.1L560.4 151.6L562.9 150.4L565.4 150.2L567.9 151.0L570.9 153.1L574.4 156.6L585.4 170.4L589.9 175.1L594.4 178.6L598.9 181.1L604.4 182.9L611.9 184.0L628.4 184.7L791.4 184.7" stroke="#0000ff" stroke-width="1.35" fill="none"/>
<path d="M416.9 214.2L432.4 213.8L454.9 211.8L465.4 209.8L484.9 204.4L505.9 198.2L522.9 193.2L536.4 190.4L550.4 188.4L589.4 185.7L596.9 184.3L602.9 182.2L614.4 176.2L617.9 175.3L621.4 175.4L625.4 176.7L635.9 181.9L641.9 183.7L649.4 184.6L674.9 184.9L791.4 184.8" stroke="#ff00ff" stroke-width="1.35" fill="none"/>
<path d="M416.9 214.2L432.4 213.8L454.9 211.8L465.4 209.8L484.9 204.4L505.9 198.2L522.9 193.2L536.4 190.4L550.4 188.5L591.4 186.1L624.9 184.7L632.4 183.4L639.4 181.0L647.4 178.0L651.4 177.4L655.4 177.9L661.9 180.1L669.9 182.9L676.9 184.2L689.4 184.7L791.4 184.8" stroke="#ff00ff" stroke-width="1.35" fill="none"/>
<path d="M416.9 214.2L432.4 213.8L454.9 211.8L465.4 209.8L484.9 204.4L505.9 198.2L522.9 193.2L536.4 190.4L550.4 188.5L590.9 186.1L621.4 185.2L640.4 184.5L649.9 183.2L658.4 180.9L671.4 176.4L676.9 175.5L681.9 175.7L688.4 177.3L701.9 181.9L710.4 183.6L721.9 184.5L787.4 184.7L791.4 184.8" stroke="#008000" stroke-width="1.35" fill="none"/>
<path d="M416.9 214.2L432.4 213.8L454.9 211.8L465.4 209.8L484.9 204.4L505.9 198.2L522.9 193.2L536.4 190.4L550.4 188.5L589.9 186.2L618.9 185.3L670.4 184.6L681.4 183.6L690.4 181.7L703.4 178.2L708.9 177.6L714.4 178.1L725.4 181.0L734.9 183.2L744.9 184.3L769.9 184.7L791.4 184.7" stroke="#008000" stroke-width="1.35" fill="none"/>
<path d="M416.9 214.2L432.4 213.8L454.9 211.8L465.4 209.8L484.9 204.4L505.9 198.2L522.9 193.2L536.4 190.4L550.4 188.5L589.4 186.2L618.4 185.4L752.9 184.8L791.4 184.8" stroke="#222" stroke-width="1.2" fill="none" stroke-dasharray="5,3"/>
<path d="M416.9 214.0L423.9 211.7L426.4 209.9L429.4 206.6L431.4 203.7L433.4 199.8L435.4 195.0L436.9 190.6L438.4 185.2L439.9 178.9L440.9 174.1L441.9 168.5L442.4 165.4L442.9 162.1L443.4 158.2L445.4 141.2L447.9 122.4L448.4 118.3L450.4 100.4L451.9 87.4L452.4 83.3L452.9 79.5L453.9 73.0L454.9 67.2L455.4 64.6L455.9 62.4L456.9 58.9L457.4 57.4L457.9 56.2L458.4 55.5L460.4 54.2L461.9 54.1L463.4 55.1L465.4 57.1L470.4 64.2L471.4 65.0L472.4 64.8L474.9 62.4L476.9 59.7L479.4 55.4L482.4 49.0L485.4 44.2L487.4 41.7L490.4 39.2L491.9 38.6L508.9 40.3L515.9 40.8L518.9 42.3L520.9 44.0L524.9 49.7L530.4 58.1L535.4 67.4L537.4 71.9L548.9 101.0L551.4 106.2L554.9 112.5L567.9 133.8L581.4 156.7L584.4 161.5L587.9 165.5L591.4 168.5L595.4 170.7L601.4 172.9L610.4 174.5L622.4 175.5L633.4 178.4L637.9 179.1L640.4 178.6L650.9 173.1L653.4 172.5L658.9 173.2L671.9 175.4L685.9 175.6L693.4 176.6L706.9 176.8L716.4 178.5L730.9 182.9L736.4 183.7L746.9 184.2L791.4 184.2" stroke="#000" stroke-width="1.5" fill="none"/>
<path d="M418.9 213.0h.01M420.4 214.9h.01M423.0 212.2h.01M423.9 204.1h.01M426.5 213.9h.01M428.2 210.7h.01M430.7 204.4h.01M432.0 201.7h.01M434.8 197.1h.01M436.4 188.8h.01M438.9 184.1h.01M440.3 176.2h.01M442.3 165.2h.01M444.7 144.5h.01M446.9 127.9h.01M448.2 122.8h.01M450.9 99.4h.01M452.9 81.0h.01M454.0 72.5h.01M456.5 58.0h.01M458.6 57.2h.01M460.9 58.3h.01M462.5 50.2h.01M463.9 58.6h.01M466.3 52.7h.01M468.3 60.4h.01M470.3 65.1h.01M472.9 60.9h.01M474.1 59.2h.01M476.0 61.5h.01M478.3 59.6h.01M480.5 51.8h.01M482.8 51.7h.01M484.4 43.6h.01M486.0 47.8h.01M488.8 40.7h.01M490.3 39.8h.01M492.5 40.2h.01M494.3 39.6h.01M496.0 43.8h.01M498.5 45.1h.01M500.6 41.0h.01M501.9 39.3h.01M504.2 36.9h.01M506.1 38.2h.01M507.9 40.3h.01M509.9 40.1h.01M512.8 40.3h.01M514.7 40.6h.01M516.1 42.1h.01M518.6 38.6h.01M519.7 40.2h.01M522.8 49.4h.01M524.3 50.9h.01M526.6 51.0h.01M528.0 57.7h.01M530.1 55.8h.01M532.1 60.4h.01M534.8 61.5h.01M536.2 71.2h.01M538.2 74.0h.01M540.8 83.3h.01M542.7 87.3h.01M544.1 89.2h.01M546.0 94.0h.01M548.6 103.4h.01M549.8 102.5h.01M552.1 107.2h.01M554.7 112.3h.01M556.7 117.5h.01M557.9 119.7h.01M559.7 125.2h.01M562.6 124.8h.01M564.3 131.3h.01M565.9 128.8h.01M568.2 136.0h.01M569.7 137.2h.01M572.4 146.1h.01M574.2 146.2h.01M576.4 147.1h.01M577.7 151.9h.01M580.4 155.9h.01M582.0 157.1h.01M584.2 160.5h.01M586.0 161.1h.01M588.3 173.2h.01M590.3 168.1h.01M592.3 171.8h.01M593.6 167.0h.01M595.8 168.2h.01M597.6 171.4h.01M600.0 172.2h.01M602.1 175.3h.01M603.7 170.9h.01M606.3 175.4h.01M608.1 178.3h.01M610.1 172.2h.01M612.3 177.2h.01M614.7 172.4h.01M616.2 175.9h.01M617.6 176.0h.01M619.7 179.7h.01M622.4 173.8h.01M623.9 176.4h.01M626.4 179.5h.01M628.1 174.2h.01M630.0 177.7h.01M632.4 176.1h.01M633.7 176.8h.01M635.8 180.8h.01M637.9 181.0h.01M640.0 185.6h.01M642.6 181.2h.01M644.5 179.9h.01M646.5 175.1h.01M648.2 173.8h.01M649.5 174.3h.01M651.8 167.0h.01M654.1 176.9h.01M656.6 171.1h.01M657.9 170.3h.01M660.1 172.3h.01M662.5 176.2h.01M663.9 177.4h.01M666.4 173.6h.01M668.2 176.1h.01M670.1 175.1h.01M672.2 172.9h.01M674.0 175.9h.01M675.6 175.6h.01M678.5 171.5h.01M680.6 178.3h.01M682.4 171.4h.01M683.9 176.1h.01M686.2 173.0h.01M688.4 173.9h.01M689.5 174.4h.01M692.4 178.4h.01M693.5 173.4h.01M696.6 176.2h.01M697.7 180.7h.01M700.6 174.8h.01M701.7 176.6h.01M704.1 178.4h.01M706.4 175.2h.01M708.6 178.3h.01M710.3 175.6h.01M712.4 179.5h.01M713.9 178.1h.01M716.3 176.1h.01M717.9 182.6h.01M720.5 179.6h.01M722.3 179.8h.01M723.8 178.7h.01M726.3 180.8h.01M727.5 182.2h.01M730.5 184.1h.01M732.2 187.2h.01M733.8 181.4h.01M736.1 184.5h.01M738.3 189.0h.01M740.1 186.8h.01M742.4 187.8h.01M743.9 191.0h.01M745.7 187.9h.01M747.8 188.4h.01M749.7 187.1h.01M751.9 191.8h.01M754.3 190.0h.01M756.4 185.4h.01M758.1 188.7h.01M760.3 184.2h.01M762.5 190.1h.01M764.1 189.0h.01M765.4 186.8h.01M768.1 186.2h.01M769.4 182.6h.01M772.1 189.2h.01M774.5 186.9h.01M775.9 186.4h.01M778.4 189.1h.01M779.3 185.5h.01M782.5 185.7h.01M783.5 185.4h.01M786.3 183.7h.01M787.7 193.5h.01M789.8 186.7h.01" stroke="#000" stroke-width="2.6" stroke-linecap="round" fill="none"/>
<path d="M416.9 331.3L425.9 330.2L432.4 328.5L437.9 325.9L442.4 322.9L446.9 318.7L451.4 313.4L456.9 305.7L465.9 292.2L469.4 287.8L472.4 284.9L474.9 283.4L477.4 282.7L479.9 282.9L482.9 284.3L485.9 286.7L489.9 291.2L500.9 305.4L505.4 310.3L509.4 313.6L513.4 315.9L517.9 317.3L523.4 318.0L531.4 317.5L545.4 315.3L564.9 311.8L588.9 309.6L616.9 308.2L659.4 307.2L723.9 304.1L756.9 302.6L791.4 302.0" stroke="#ff0000" stroke-width="1.35" fill="none"/>
<path d="M416.9 332.3L446.4 331.5L460.9 330.4L468.4 328.9L474.4 326.7L479.4 323.8L484.4 319.7L489.4 314.6L501.4 300.3L505.4 296.5L508.9 294.2L511.9 293.2L514.9 293.3L518.4 294.5L522.9 297.3L534.4 306.2L539.4 309.2L544.4 311.1L549.9 312.0L557.9 312.0L599.4 309.0L626.4 308.0L659.9 307.2L724.4 304.1L756.9 302.6L791.4 302.1" stroke="#ff0000" stroke-width="1.35" fill="none"/>
<path d="M416.9 332.4L450.4 331.6L468.4 330.5L481.4 328.7L489.4 326.8L494.9 324.5L499.4 321.6L502.9 318.4L505.9 314.6L508.9 309.7L511.9 303.7L514.9 296.5L517.9 288.2L521.4 277.3L528.4 254.6L530.9 247.3L533.4 240.9L535.4 236.8L537.4 233.7L539.4 231.8L540.9 231.2L542.4 231.2L544.4 232.4L546.4 234.7L548.4 238.0L550.9 243.2L553.9 250.8L561.9 273.0L565.4 281.7L568.4 288.2L571.4 293.7L574.4 298.1L577.4 301.4L580.9 304.2L584.9 306.2L589.9 307.5L597.9 308.2L655.4 307.3L719.9 304.3L755.4 302.6L791.4 302.0" stroke="#0000ff" stroke-width="1.35" fill="none"/>
<path d="M416.9 332.5L452.4 331.7L469.9 330.7L489.4 328.3L506.4 325.3L517.4 322.1L527.4 318.2L534.9 314.2L540.4 310.4L545.4 305.9L550.9 299.8L563.4 283.8L567.4 279.5L570.9 276.8L573.9 275.4L576.9 275.1L579.9 275.7L583.4 277.6L587.9 281.4L600.4 294.1L605.9 298.7L611.4 302.1L616.9 304.3L623.9 306.0L633.9 307.0L651.4 307.1L703.4 305.1L752.9 302.7L791.4 302.0" stroke="#0000ff" stroke-width="1.35" fill="none"/>
<path d="M416.9 332.6L453.4 331.8L470.9 330.9L491.4 328.3L507.4 325.7L536.4 318.0L560.9 312.8L573.9 311.0L615.9 307.1L624.9 305.4L631.9 303.0L637.9 299.9L643.9 295.7L653.9 286.9L659.9 281.8L664.4 279.1L667.9 277.9L671.4 277.6L674.9 278.4L678.9 280.3L684.4 284.2L695.9 293.4L701.9 297.3L707.9 300.0L714.4 301.7L722.9 302.7L738.4 302.7L790.9 301.9L791.4 301.9" stroke="#008000" stroke-width="1.35" fill="none"/>
<path d="M416.9 332.6L453.4 331.9L470.9 330.9L491.4 328.4L507.4 325.7L536.4 318.2L560.9 312.9L573.9 311.2L603.4 308.9L630.9 307.9L651.4 307.1L662.9 305.7L671.4 303.7L679.4 300.7L696.4 292.5L701.9 290.7L706.9 290.2L711.9 290.7L718.9 292.9L732.9 298.3L741.4 300.5L751.4 301.7L767.9 302.0L791.4 301.9" stroke="#008000" stroke-width="1.35" fill="none"/>
<path d="M416.9 332.6L453.9 331.9L470.9 330.9L491.4 328.4L507.4 325.8L536.4 318.2L560.9 313.0L573.9 311.3L602.9 309.1L628.9 308.2L662.9 307.2L727.4 304.0L758.9 302.6L791.4 302.1" stroke="#222" stroke-width="1.2" fill="none" stroke-dasharray="5,3"/>
<path d="M416.9 329.8L426.4 324.3L435.4 318.0L440.4 313.9L443.4 310.7L456.9 292.1L462.4 285.8L466.9 281.5L472.9 277.3L479.4 273.7L485.9 270.4L491.9 266.5L496.4 262.5L502.4 255.9L507.9 248.7L514.4 239.2L525.4 222.5L529.4 215.3L533.4 209.7L534.9 208.4L538.9 207.3L540.9 207.3L542.9 208.4L546.4 211.8L549.4 216.2L553.4 222.9L560.9 236.0L576.9 259.9L591.4 279.1L598.4 287.4L604.4 293.8L607.4 296.1L611.9 298.6L616.9 300.0L621.9 300.6L627.4 299.9L631.4 298.7L636.9 295.6L641.4 292.2L646.9 287.0L651.9 281.8L658.9 276.7L663.4 272.2L664.9 271.4L672.9 270.1L678.4 270.0L684.4 271.3L689.4 273.0L701.4 279.3L711.9 284.8L722.9 291.2L732.4 295.9L741.9 299.6L751.9 301.8L759.9 302.2L787.4 302.1L791.4 302.0" stroke="#000" stroke-width="1.5" fill="none"/>
<path d="M418.8 317.3h.01M420.3 343.8h.01M421.5 331.4h.01M422.7 334.1h.01M424.0 324.0h.01M425.9 309.2h.01M427.5 315.1h.01M428.6 330.6h.01M430.1 323.0h.01M432.8 309.3h.01M433.9 300.0h.01M435.0 319.6h.01M436.7 313.0h.01M438.9 311.1h.01M440.4 310.0h.01M441.8 315.8h.01M442.8 314.8h.01M444.5 320.5h.01M446.2 317.6h.01M447.0 321.1h.01M449.2 312.0h.01M450.4 297.1h.01M452.6 297.3h.01M453.2 302.8h.01M455.5 290.4h.01M457.2 298.0h.01M458.0 304.0h.01M460.3 278.9h.01M461.8 266.1h.01M462.3 299.5h.01M464.7 283.7h.01M465.4 290.9h.01M467.5 265.8h.01M469.0 299.6h.01M470.2 287.4h.01M471.9 276.5h.01M474.0 272.6h.01M475.0 277.3h.01M476.3 273.4h.01M478.5 271.0h.01M479.7 260.9h.01M481.7 286.9h.01M482.6 271.8h.01M484.2 272.3h.01M486.3 271.2h.01M487.5 243.0h.01M489.0 274.4h.01M490.2 264.0h.01M491.5 263.5h.01M494.1 265.4h.01M494.7 253.3h.01M497.1 271.2h.01M498.1 253.1h.01M500.3 248.3h.01M501.2 247.8h.01M503.4 256.5h.01M504.4 261.7h.01M505.6 245.3h.01M507.7 232.2h.01M509.2 258.7h.01M510.7 232.9h.01M512.0 256.1h.01M513.2 240.4h.01M515.3 230.2h.01M516.2 229.4h.01M518.4 238.2h.01M519.9 240.7h.01M521.1 226.9h.01M523.1 236.5h.01M524.0 247.8h.01M525.7 219.6h.01M527.8 205.6h.01M528.8 204.7h.01M530.7 198.1h.01M532.1 204.3h.01M534.1 201.0h.01M535.7 193.5h.01M536.9 213.6h.01M538.5 178.6h.01M539.3 192.7h.01M541.5 229.6h.01M543.2 220.0h.01M544.2 215.2h.01M545.9 216.2h.01M547.3 232.5h.01M549.4 222.1h.01M550.2 218.3h.01M551.8 206.6h.01M552.9 221.1h.01M554.9 217.5h.01M556.7 221.0h.01M558.6 224.3h.01M560.1 234.3h.01M561.0 232.5h.01M563.3 249.3h.01M563.9 226.0h.01M566.2 242.0h.01M566.9 265.4h.01M568.7 248.1h.01M569.9 262.6h.01M572.3 265.7h.01M573.8 269.9h.01M574.6 264.6h.01M576.6 244.2h.01M577.8 258.1h.01M579.6 259.3h.01M581.2 248.6h.01M582.2 261.8h.01M584.6 256.4h.01M585.5 253.0h.01M587.2 276.0h.01M588.3 274.6h.01M589.7 269.4h.01M591.5 268.8h.01M593.2 275.4h.01M595.5 279.7h.01M596.9 281.2h.01M598.0 286.3h.01M599.5 283.8h.01M601.3 294.8h.01M603.0 298.2h.01M604.0 297.3h.01M606.0 287.9h.01M607.1 289.1h.01M608.9 301.8h.01M610.6 295.8h.01M611.8 298.1h.01M613.6 271.8h.01M615.1 269.9h.01M615.8 303.5h.01M617.4 303.7h.01M619.1 315.7h.01M620.7 308.5h.01M622.2 303.0h.01M623.6 300.7h.01M625.3 284.6h.01M627.3 309.6h.01M629.2 292.8h.01M630.1 304.7h.01M631.6 300.8h.01M633.2 300.8h.01M635.1 306.6h.01M636.7 290.3h.01M638.5 290.3h.01M639.3 284.5h.01M641.2 288.2h.01M642.3 309.7h.01M644.5 285.4h.01M645.3 301.7h.01M647.6 295.3h.01M648.7 293.1h.01M650.5 292.0h.01M651.8 270.8h.01M653.1 285.0h.01M654.8 297.1h.01M655.8 271.4h.01M657.3 277.5h.01M659.5 268.6h.01M660.9 278.1h.01M662.9 260.8h.01M663.4 289.8h.01M665.6 267.1h.01M667.1 254.0h.01M668.7 290.2h.01M670.4 281.0h.01M671.7 275.9h.01M673.3 275.9h.01M674.8 266.0h.01M676.4 267.5h.01M677.5 277.8h.01M679.4 280.1h.01M681.1 280.6h.01M682.1 273.0h.01M684.6 266.2h.01M685.8 269.6h.01M687.6 284.3h.01M688.3 288.2h.01M690.0 269.6h.01M691.4 268.8h.01M692.6 288.2h.01M694.1 283.4h.01M696.0 284.1h.01M698.2 263.6h.01M698.9 274.1h.01M701.1 273.6h.01M702.1 281.9h.01M703.4 262.1h.01M705.1 294.8h.01M707.2 285.4h.01M708.5 287.6h.01M710.1 271.0h.01M711.6 284.3h.01M712.9 299.7h.01M714.7 269.6h.01M716.7 291.0h.01M717.4 295.6h.01M719.6 282.0h.01M720.5 298.6h.01M722.0 287.2h.01M723.7 304.7h.01M724.9 297.9h.01M727.5 296.0h.01M728.3 315.3h.01M729.6 303.5h.01M731.0 309.1h.01M732.6 283.4h.01M734.3 289.9h.01M736.1 306.3h.01M737.8 307.7h.01M739.8 298.3h.01M741.2 307.6h.01M742.0 288.5h.01M744.0 302.4h.01M745.9 288.6h.01M746.4 304.3h.01M748.9 296.2h.01M749.9 294.7h.01M751.9 302.3h.01M752.8 320.8h.01M754.7 291.6h.01M756.1 295.9h.01M757.2 313.2h.01M759.5 297.8h.01M761.1 320.4h.01M762.2 304.5h.01M763.7 303.2h.01M765.9 305.9h.01M766.7 320.1h.01M768.9 309.0h.01M769.8 307.6h.01M771.3 304.9h.01M772.8 286.4h.01M774.0 293.3h.01M775.8 317.4h.01M777.3 310.6h.01M778.6 307.4h.01M780.7 308.7h.01M782.2 296.8h.01M783.2 305.6h.01M784.9 293.1h.01M787.3 306.1h.01M787.9 295.0h.01M789.7 299.9h.01" stroke="#000" stroke-width="2.6" stroke-linecap="round" fill="none"/>
<path d="M416.9 420.1L556.9 410.2L599.4 407.1L611.4 405.3L618.9 403.3L624.9 400.6L629.9 397.3L634.9 393.0L639.9 387.6L645.4 380.4L660.9 357.7L665.4 352.1L668.9 348.6L672.4 346.1L675.9 344.7L679.4 344.5L682.9 345.5L686.9 347.6L691.4 351.2L698.9 358.6L707.4 367.2L712.9 371.8L718.4 375.2L724.4 377.7L731.4 379.4L740.9 380.1L757.9 380.1L790.4 379.4L791.4 379.4" stroke="#008000" stroke-width="1.35" fill="none"/>
<path d="M416.9 420.1L556.9 410.2L630.9 405.3L643.4 403.5L652.4 401.3L658.4 399.0L664.4 395.5L670.4 391.0L677.9 384.0L689.4 371.7L695.9 365.2L700.4 361.6L704.4 359.4L708.9 358.0L713.4 357.8L717.9 358.8L723.4 361.2L740.9 371.8L748.4 375.4L755.4 377.5L763.9 378.8L777.9 379.3L791.4 379.4" stroke="#008000" stroke-width="1.35" fill="none"/>
<path d="M416.9 420.1L556.9 410.2L632.4 405.2L649.4 403.0L659.9 400.9L700.9 388.1L719.9 383.9L735.4 381.6L749.9 380.5L782.4 379.4L791.4 379.4" stroke="#222" stroke-width="1.2" fill="none" stroke-dasharray="5,3"/>
<path d="M416.9 420.2L455.9 419.6L494.9 417.8L534.4 414.9L573.9 410.7L602.4 406.8L609.9 404.3L615.4 401.5L621.9 397.0L628.4 391.1L634.4 384.8L641.4 376.2L649.9 364.2L657.9 352.1L664.9 342.6L667.9 339.4L673.4 334.8L676.9 332.8L682.9 330.9L686.4 330.8L691.4 331.9L696.9 334.0L701.9 337.2L706.9 341.2L714.9 349.4L723.4 359.2L730.4 365.7L737.4 370.9L742.9 374.2L750.4 377.4L756.4 378.6L767.4 379.7L786.9 379.6L791.4 379.3" stroke="#000" stroke-width="1.5" fill="none"/>
<path d="M418.4 411.1h.01M419.7 419.9h.01M421.3 398.4h.01M422.9 395.3h.01M425.1 426.1h.01M426.2 411.1h.01M427.8 404.8h.01M428.9 399.8h.01M430.9 400.9h.01M431.8 432.3h.01M433.2 423.7h.01M435.7 404.2h.01M436.2 392.5h.01M438.9 433.4h.01M440.3 432.0h.01M441.8 426.8h.01M442.4 421.7h.01M444.1 383.6h.01M446.5 391.8h.01M447.5 417.7h.01M449.3 405.8h.01M450.2 413.4h.01M451.8 402.4h.01M453.7 400.5h.01M455.6 417.4h.01M456.8 404.0h.01M457.8 409.5h.01M460.3 413.1h.01M461.0 412.7h.01M462.8 425.6h.01M464.6 428.4h.01M465.8 390.3h.01M467.4 405.5h.01M469.5 400.2h.01M470.5 419.6h.01M472.2 394.2h.01M474.2 419.7h.01M474.9 418.7h.01M477.2 416.9h.01M478.1 395.3h.01M479.6 405.7h.01M481.8 393.6h.01M482.4 414.1h.01M484.9 421.7h.01M486.3 387.3h.01M488.0 396.9h.01M488.5 406.0h.01M490.2 400.8h.01M492.4 428.7h.01M493.5 406.0h.01M494.6 411.5h.01M496.9 392.5h.01M498.6 429.0h.01M500.3 409.9h.01M500.9 418.3h.01M502.5 408.7h.01M504.8 378.2h.01M505.4 385.3h.01M507.2 389.5h.01M508.9 413.6h.01M510.4 400.0h.01M512.1 412.8h.01M514.0 410.7h.01M515.3 410.1h.01M516.8 419.1h.01M518.3 408.9h.01M519.4 383.9h.01M521.2 396.9h.01M523.4 428.8h.01M524.8 391.3h.01M526.2 424.5h.01M527.4 428.3h.01M529.4 397.5h.01M530.6 410.2h.01M531.9 386.3h.01M533.6 415.8h.01M534.7 394.6h.01M536.7 387.2h.01M537.9 399.6h.01M540.0 398.5h.01M541.6 396.7h.01M543.3 407.1h.01M544.7 402.0h.01M545.3 395.3h.01M547.6 416.9h.01M549.3 436.5h.01M550.9 404.6h.01M551.9 394.2h.01M553.5 390.2h.01M555.1 411.3h.01M556.1 399.8h.01M558.6 403.2h.01M560.2 376.1h.01M560.9 387.6h.01M563.3 387.0h.01M563.9 415.1h.01M565.3 398.7h.01M567.6 369.0h.01M569.2 408.3h.01M570.0 416.9h.01M572.5 418.9h.01M573.3 364.3h.01M574.6 403.3h.01M576.3 411.9h.01M577.6 409.0h.01M579.9 397.6h.01M580.9 376.8h.01M582.9 394.7h.01M584.1 396.0h.01M585.3 407.6h.01M587.4 408.3h.01M589.4 396.4h.01M590.0 410.6h.01M592.4 385.4h.01M592.9 390.3h.01M595.0 398.5h.01M596.1 406.3h.01M598.6 394.3h.01M599.6 414.4h.01M601.5 403.4h.01M602.9 385.5h.01M604.1 398.7h.01M605.4 385.9h.01M607.7 384.5h.01M609.2 378.2h.01M610.6 413.9h.01M612.2 407.2h.01M612.8 375.3h.01M614.6 408.9h.01M616.5 406.1h.01M617.5 389.3h.01M619.6 399.0h.01M621.6 419.1h.01M622.4 394.8h.01M624.3 395.2h.01M625.3 402.9h.01M627.5 375.7h.01M629.2 371.9h.01M630.6 369.2h.01M631.7 383.7h.01M633.1 393.2h.01M634.4 372.4h.01M636.8 364.4h.01M638.4 380.3h.01M639.5 372.8h.01M641.3 381.2h.01M642.2 372.2h.01M644.4 368.9h.01M645.3 368.8h.01M647.4 367.2h.01M648.1 356.0h.01M650.1 351.7h.01M651.4 377.2h.01M652.7 390.2h.01M654.5 367.7h.01M656.8 337.4h.01M657.6 352.5h.01M659.0 361.9h.01M661.1 332.1h.01M662.8 340.7h.01M663.8 340.2h.01M666.1 332.9h.01M667.3 332.4h.01M668.7 348.3h.01M670.6 333.2h.01M672.1 334.2h.01M673.4 350.9h.01M674.5 326.9h.01M676.3 316.3h.01M678.0 338.7h.01M679.8 350.4h.01M681.4 333.7h.01M681.9 334.4h.01M684.0 319.7h.01M686.0 322.8h.01M687.0 344.5h.01M688.9 343.0h.01M689.8 337.2h.01M692.1 326.8h.01M692.8 322.1h.01M694.4 323.9h.01M696.0 323.3h.01M697.4 340.1h.01M699.5 328.7h.01M701.3 332.5h.01M702.0 343.8h.01M703.6 344.8h.01M705.3 340.4h.01M706.8 345.6h.01M708.7 343.1h.01M709.6 326.3h.01M711.7 345.4h.01M713.1 343.7h.01M714.2 345.5h.01M716.2 353.1h.01M717.6 347.3h.01M718.8 365.2h.01M720.6 354.5h.01M722.5 359.8h.01M724.3 363.2h.01M726.0 360.1h.01M727.2 369.0h.01M728.4 371.0h.01M729.6 370.9h.01M731.8 360.1h.01M733.2 359.3h.01M735.1 363.4h.01M735.9 369.8h.01M737.9 353.1h.01M738.8 363.5h.01M740.5 361.6h.01M742.2 367.1h.01M744.2 365.6h.01M745.2 383.0h.01M747.1 380.2h.01M749.0 386.1h.01M750.5 367.4h.01M751.5 369.7h.01M752.7 374.8h.01M754.7 394.8h.01M756.5 395.4h.01M757.8 372.3h.01M759.5 385.3h.01M760.4 401.1h.01M762.0 368.5h.01M763.4 377.3h.01M764.8 393.1h.01M766.8 387.3h.01M768.7 369.1h.01M769.8 396.0h.01M772.0 390.4h.01M772.8 387.3h.01M774.4 366.1h.01M776.5 377.9h.01M777.8 394.4h.01M779.2 385.2h.01M780.4 388.7h.01M781.7 376.6h.01M783.4 397.0h.01M784.9 376.8h.01M786.7 390.3h.01M788.2 383.3h.01M790.0 367.8h.01" stroke="#000" stroke-width="2.6" stroke-linecap="round" fill="none"/>
<path d="M788.6 302.1L789.5 316" stroke="#000" stroke-width="1.2"/>
<text x="23" y="41.5" font-size="16" fill="#111">IOM</text>
<text x="23" y="237.5" font-size="16" fill="#111">IOM-residue</text>
<text x="72" y="373.2" font-size="16" fill="#111" text-anchor="middle">IOM alkali-</text>
<text x="72" y="392.8" font-size="16" fill="#111" text-anchor="middle">extracted</text>
<text x="361.7" y="51.5" font-size="37" fill="#000">A</text>
<text x="360.0" y="233.3" font-size="37" fill="#000">C</text>
<text x="359.0" y="357.0" font-size="37" fill="#000">E</text>
<text x="742.3" y="51.8" font-size="37" fill="#000">B</text>
<text x="754.8" y="233.0" font-size="37" fill="#000">D</text>
<text x="755.0" y="356.3" font-size="37" fill="#000">F</text>
<text transform="translate(139.0,87.0) rotate(-90)" font-size="15" fill="#0000ff">S(0)</text>
<text transform="translate(244.3,59.8) rotate(-90)" font-size="15" fill="#ff00ff">Sulphite</text>
<text transform="translate(309.8,116.2) rotate(-90)" font-size="15" fill="#008000">Sulphate</text>
<text transform="translate(463.8,43.1) rotate(-90)" font-size="14.5" fill="#202090">MeS</text>
<text transform="translate(498.3,34.5) rotate(-90)" font-size="15" fill="#ff0000">MeS<tspan font-size="10" dy="4.5">2</tspan></text>
<text transform="translate(545.7,58.5) rotate(-90)" font-size="15" fill="#0000ff">S(0)</text>
<text transform="translate(638.5,155.5) rotate(-90)" font-size="15" fill="#ff00ff">Sulphite</text>
<text transform="translate(688.0,154.0) rotate(-90)" font-size="15" fill="#008000">Sulphate</text>
</svg>
</body></html>
